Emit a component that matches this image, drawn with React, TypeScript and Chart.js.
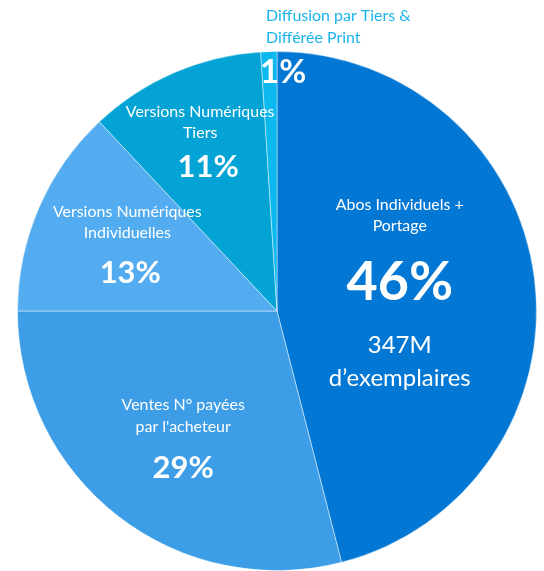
import React, { useEffect, useRef } from "react";
import { Chart, registerables } from "chart.js";

Chart.register(...registerables);

const categories = [
  "Abos Individuels + Portage",
  "Ventes N° payées par l'acheteur",
  "Versions Numériques Individuelles",
  "Versions Numériques Tiers",
  "Diffusion par Tiers & Différée Print",
];
const shares = [46, 29, 13, 11, 1];
const colors = ["#0277d4", "#3d9de6", "#52acef", "#03a3d5", "#0bb9ef"];

// label text per slice
const labelLines = [
  ["Abos Individuels +", "Portage"],
  ["Ventes N° payées", "par l'acheteur"],
  ["Versions Numériques", "Individuelles"],
  ["Versions Numériques", "Tiers"],
  ["Diffusion par Tiers &", "Différée Print"],
];
const extraLines = ["347M", "d’exemplaires"];

const FONT = "Lato, 'Noto Sans', sans-serif";

const labelsPlugin = {
  id: "sliceLabels",
  afterDatasetsDraw(chart: any) {
    const meta = chart.getDatasetMeta(0);
    const arc = meta.data[0];
    if (!arc) return;
    const cx = arc.x;
    const cy = arc.y;
    const r = arc.outerRadius;
    const k = r / 260;
    const ctx = chart.ctx;
    ctx.save();
    ctx.textAlign = "center";
    ctx.textBaseline = "middle";
    ctx.fillStyle = "#ffffff";
    const txt = (s: string, dx: number, dy: number, size: number, bold = false) => {
      ctx.font = `${bold ? "700 " : ""}${size * k}px ${FONT}`;
      ctx.fillText(s, cx + dx * k, cy + dy * k);
    };
    // 46%
    txt(labelLines[0][0], 123, -106, 16);
    txt(labelLines[0][1], 123, -85, 16);
    txt(shares[0] + "%", 123, -28, 54, true);
    txt(extraLines[0], 123, 34, 24);
    txt(extraLines[1], 123, 67, 24);
    // 29%
    txt(labelLines[1][0], -94, 94, 16);
    txt(labelLines[1][1], -94, 116, 16);
    txt(shares[1] + "%", -94, 157, 31, true);
    // 13%
    txt(labelLines[2][0], -150, -99, 16);
    txt(labelLines[2][1], -150, -78, 16);
    txt(shares[2] + "%", -147, -38, 31, true);
    // 11%
    txt(labelLines[3][0], -77, -200, 16);
    txt(labelLines[3][1], -77, -178, 16);
    txt(shares[3] + "%", -69, -144, 31, true);
    // 1%
    ctx.textAlign = "left";
    txt(shares[4] + "%", -17, -239, 33, true);
    ctx.fillStyle = "#1ab4ec";
    txt(labelLines[4][0], -11, -296, 16);
    txt(labelLines[4][1], -11, -274, 16);
    ctx.restore();
  },
};

export default function App() {
  const ref = useRef<HTMLCanvasElement | null>(null);
  useEffect(() => {
    if (!ref.current) return;
    const chart = new Chart(ref.current, {
      type: "pie",
      data: {
        labels: categories,
        datasets: [
          {
            data: shares,
            backgroundColor: colors,
            borderColor: "rgba(255,255,255,0.45)",
            borderWidth: 1,
          },
        ],
      },
      options: {
        animation: false,
        responsive: false,
        maintainAspectRatio: false,
        layout: { padding: { top: 51, bottom: 0, left: 17, right: 7 } },
        plugins: {
          legend: { display: false },
          tooltip: { enabled: false },
        },
      },
      plugins: [labelsPlugin],
    });
    return () => chart.destroy();
  }, []);
  return (
    <div style={{ position: "fixed", left: 0, top: 0, width: 544, height: 571, background: "#fff" }}>
      <canvas ref={ref} width={544} height={571} style={{ width: 544, height: 571 }} />
    </div>
  );
}
